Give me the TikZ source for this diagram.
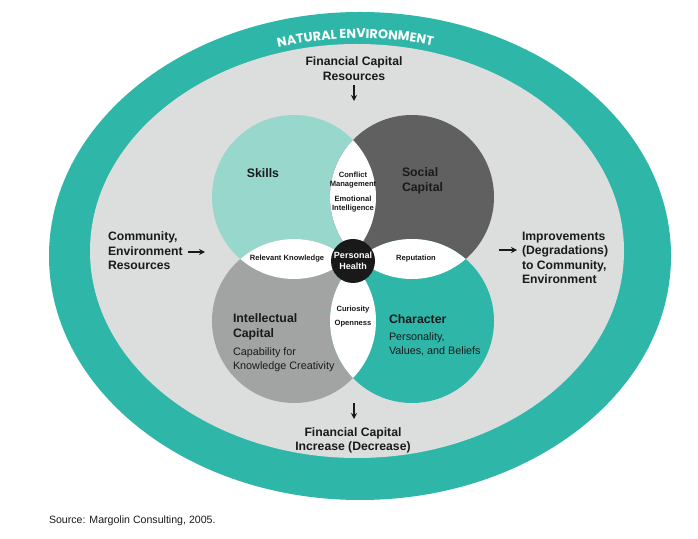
\documentclass[tikz,border=0pt]{standalone}
\usepackage{fontspec}
\setmainfont{Liberation Sans}
\newfontfamily\titlefont{Poppins}
\usetikzlibrary{arrows.meta,decorations.text}
\definecolor{tealband}{HTML}{2EB7A9}
\definecolor{innergray}{HTML}{DCDDDD}
\definecolor{skillcol}{HTML}{98D7CB}
\definecolor{socialcol}{HTML}{5F605F}
\definecolor{intelcol}{HTML}{A2A3A3}
\definecolor{charcol}{HTML}{2EB7A9}
\definecolor{ink}{HTML}{1A1A1A}
\tikzset{
  lbl/.style={inner sep=0pt, outer sep=0pt, text=ink},
  bigb/.style={lbl, font=\fontsize{12.2}{14.5}\selectfont\bfseries},
  head/.style={lbl, font=\fontsize{12.3}{15}\selectfont\bfseries, align=left},
  sub/.style={lbl, font=\fontsize{10.8}{13.5}\selectfont, align=left},
  lens/.style={lbl, font=\fontsize{7.6}{9.5}\selectfont\bfseries, align=center},
  arr/.style={-{Stealth[length=6pt,width=6pt]}, line width=1.3pt, draw=ink},
}
\begin{document}
\begin{tikzpicture}[x=1pt,y=1pt]
\useasboundingbox (0,0) rectangle (698,538);
\fill[white] (0,0) rectangle (698,538);
% ellipses
\fill[tealband] (360,282) ellipse [x radius=311, y radius=244];
\fill[innergray] (357,287) ellipse [x radius=267, y radius=207];
\path[decorate, decoration={text along path, text={|\titlefont\bfseries\fontsize{12.8}{12.8}\selectfont|NATURAL ENVIRONMENT}, text align=center, text color=white}]
  (360,282) ++(121:280 and 218) arc[start angle=121, end angle=61, x radius=280, y radius=218];
% circle centres
\coordinate (cS) at (294,341);
\coordinate (cO) at (412,341);
\coordinate (cI) at (294,217);
\coordinate (cC) at (412,217);
\fill[skillcol] (cS) circle[radius=82];
\fill[socialcol] (cO) circle[radius=82];
\fill[intelcol] (cI) circle[radius=82];
\fill[charcol] (cC) circle[radius=82];
\begin{scope}\clip (cS) circle[radius=82]; \fill[white] (cO) circle[radius=82]; \end{scope}
\begin{scope}\clip (cS) circle[radius=82]; \fill[white] (cI) circle[radius=82]; \end{scope}
\begin{scope}\clip (cO) circle[radius=82]; \fill[white] (cC) circle[radius=82]; \end{scope}
\begin{scope}\clip (cI) circle[radius=82]; \fill[white] (cC) circle[radius=82]; \end{scope}
\node[circle, fill=black!90, minimum size=44pt, inner sep=0pt, text=white, font=\fontsize{9}{12}\selectfont\bfseries, align=center] (health) at (353,277) {Personal\\[-1pt]Health};
% circle texts
\node[head, anchor=center] (skills) at (263,365) {Skills};
\node[head, anchor=west] (social) at (402,357) {Social\\Capital};
\node[lens] (conflict) at (353,358) {Conflict\\Management};
\node[lens] (emot) at (353,334) {Emotional\\Intelligence};
\node[lens] (relk) at (287,279) {Relevant Knowledge};
\node[lens] (rep) at (416,279) {Reputation};
\node[lens, font=\fontsize{7.6}{14}\selectfont\bfseries] (cur) at (353,221) {Curiosity\\Openness};
\node[head, anchor=west] (intel) at (233,211.5) {Intellectual\\Capital};
\node[sub, anchor=west] (capab) at (233,178.5) {Capability for\\Knowledge Creativity};
\node[head, anchor=west] (charac) at (389,219) {Character};
\node[sub, anchor=west] (pers) at (389,193.5) {Personality,\\Values, and Beliefs};
% outer texts
\node[bigb, align=center] (finres) at (354,469.5) {Financial Capital\\Resources};
\node[bigb, align=center] (fininc) at (353,97.5) {Financial Capital\\Increase (Decrease)};
\node[bigb, align=left, anchor=west] (comm) at (108,287) {Community,\\Environment\\Resources};
\node[bigb, align=left, anchor=west] (impr) at (522,280) {Improvements\\(Degradations)\\to Community,\\Environment};
\node[lbl, font=\fontsize{10.6}{12}\selectfont, anchor=west] (src) at (49,17) {Source: Margolin Consulting, 2005.};
% arrows
\coordinate (a1s) at (354,453); \coordinate (a1e) at (354,437);
\coordinate (a2s) at (354,135); \coordinate (a2e) at (354,119);
\coordinate (a3s) at (188,286); \coordinate (a3e) at (205,286);
\coordinate (a4s) at (499,288); \coordinate (a4e) at (517,288);
\draw[arr] (a1s) -- (a1e);
\draw[arr] (a2s) -- (a2e);
\draw[arr] (a3s) -- (a3e);
\draw[arr] (a4s) -- (a4e);
\end{tikzpicture}
\end{document}
